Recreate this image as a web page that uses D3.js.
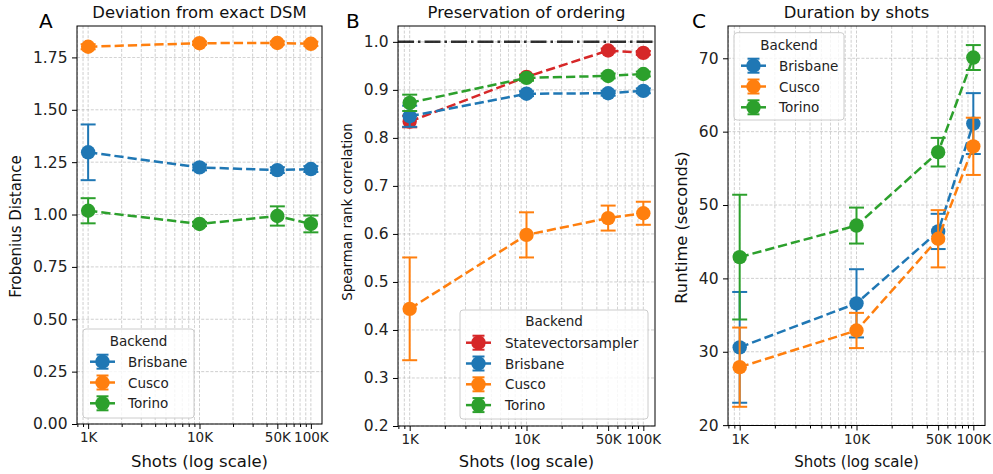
<!DOCTYPE html>
<html>
<head>
<meta charset="utf-8">
<script src="https://cdn.jsdelivr.net/npm/d3@7"></script>
<style>
  html, body { margin: 0; padding: 0; background: #fff; }
  svg { display: block; font-family: "DejaVu Sans", sans-serif; }
</style>
</head>
<body>
<svg id="chart" width="993" height="474"></svg>
<script>
// ---------------- DATA ----------------
const shots = [1000, 10000, 50000, 100000];
const shotLabels = ["1K", "10K", "50K", "100K"];

// Panel A: Frobenius distance from exact DSM
const frobBackends = ["Brisbane", "Cusco", "Torino"];
const frobBrisbane = [1.297, 1.225, 1.212, 1.217];
const frobBrisbaneErr = [0.133, 0.014, 0.014, 0.014];
const frobCusco = [1.801, 1.818, 1.819, 1.815];
const frobCuscoErr = [0.012, 0.008, 0.008, 0.010];
const frobTorino = [1.018, 0.955, 0.993, 0.955];
const frobTorinoErr = [0.060, 0.010, 0.046, 0.040];
const frobTicks = [0.00, 0.25, 0.50, 0.75, 1.00, 1.25, 1.50, 1.75];

// Panel B: Spearman rank correlation
const spearBackends = ["Statevectorsampler", "Brisbane", "Cusco", "Torino"];
const spearStatevector = [0.834, 0.927, 0.982, 0.977];
const spearStatevectorErr = [0.012, 0.005, 0.004, 0.004];
const spearBrisbane = [0.845, 0.892, 0.893, 0.898];
const spearBrisbaneErr = [0.022, 0.005, 0.005, 0.005];
const spearCusco = [0.444, 0.598, 0.633, 0.643];
const spearCuscoErr = [0.107, 0.047, 0.026, 0.024];
const spearTorino = [0.873, 0.925, 0.929, 0.933];
const spearTorinoErr = [0.017, 0.006, 0.005, 0.005];
const spearTicks = [0.2, 0.3, 0.4, 0.5, 0.6, 0.7, 0.8, 0.9, 1.0];
const spearReference = 1.0;

// Panel C: runtime in seconds
const timeBackends = ["Brisbane", "Cusco", "Torino"];
const timeBrisbane = [30.6, 36.6, 46.4, 61.1];
const timeBrisbaneErr = [7.55, 4.65, 2.4, 4.15];
const timeCusco = [27.9, 32.9, 45.4, 58.0];
const timeCuscoErr = [5.4, 2.4, 3.9, 3.9];
const timeTorino = [42.9, 47.2, 57.2, 70.1];
const timeTorinoErr = [8.5, 2.45, 1.95, 1.7];
const timeTicks = [20, 30, 40, 50, 60, 70];

// ---------------- STYLE ----------------
const colors = {
  Statevectorsampler: "#d62728",
  Brisbane: "#1f77b4",
  Cusco: "#ff7f0e",
  Torino: "#2ca02c"
};

const svg = d3.select("#chart");
svg.append("rect").attr("width", 993).attr("height", 474).attr("fill", "#fff");

const xDomain = [Math.pow(10, 2.9), Math.pow(10, 5.1)];
const minorX = [];
[100, 1000, 10000, 100000].forEach(dec => {
  for (let k = 1; k <= 9; k++) {
    const v = dec * k;
    if (v >= xDomain[0] && v <= xDomain[1] && !shots.includes(v)) minorX.push(v);
  }
});

function drawPanel(cfg) {
  const { x0, x1, y0, y1 } = cfg.box;
  const x = d3.scaleLog().domain(xDomain).range([x0, x1]);
  const y = d3.scaleLinear().domain(cfg.yDomain).range([y1, y0]);
  const g = svg.append("g");

  // grid
  const grid = g.append("g");
  grid.selectAll(".gx").data(minorX.concat(shots)).join("line")
    .attr("x1", d => x(d)).attr("x2", d => x(d))
    .attr("y1", y0).attr("y2", y1)
    .attr("stroke", "#b0b0b0").attr("stroke-width", 0.8)
    .attr("stroke-dasharray", "3,1.6").attr("opacity", 0.75);
  grid.selectAll(".gy").data(cfg.yTicks).join("line")
    .attr("x1", x0).attr("x2", x1)
    .attr("y1", d => y(d)).attr("y2", d => y(d))
    .attr("stroke", "#b0b0b0").attr("stroke-width", 0.8)
    .attr("stroke-dasharray", "3,1.6").attr("opacity", 0.75);

  // reference line
  if (cfg.refLine !== undefined) {
    g.append("line")
      .attr("x1", x0).attr("x2", x1)
      .attr("y1", y(cfg.refLine)).attr("y2", y(cfg.refLine))
      .attr("stroke", "#000").attr("stroke-opacity", 0.8)
      .attr("stroke-width", 2.5)
      .attr("stroke-dasharray", "16,4,2.5,4");
  }

  // series
  cfg.series.forEach(s => {
    const c = colors[s.name];
    const sg = g.append("g");
    const pts = shots.map((v, i) => ({ sx: v, v: s.values[i], e: s.err[i] }));
    sg.append("path").datum(pts)
      .attr("d", d3.line().x(d => x(d.sx)).y(d => y(d.v)))
      .attr("fill", "none").attr("stroke", c).attr("stroke-width", 2.5)
      .attr("stroke-dasharray", "9.25,4");
    pts.forEach(d => {
      const px = x(d.sx);
      sg.append("line").attr("x1", px).attr("x2", px)
        .attr("y1", y(d.v - d.e)).attr("y2", y(d.v + d.e))
        .attr("stroke", c).attr("stroke-width", 2);
      [d.v - d.e, d.v + d.e].forEach(cv => {
        sg.append("line").attr("x1", px - 7.5).attr("x2", px + 7.5)
          .attr("y1", y(cv)).attr("y2", y(cv))
          .attr("stroke", c).attr("stroke-width", 2);
      });
    });
    sg.selectAll("circle").data(pts).join("circle")
      .attr("cx", d => x(d.sx)).attr("cy", d => y(d.v))
      .attr("r", 7.2).attr("fill", c);
  });

  // spines
  g.append("rect").attr("x", x0).attr("y", y0)
    .attr("width", x1 - x0).attr("height", y1 - y0)
    .attr("fill", "none").attr("stroke", "#000").attr("stroke-width", 1);

  // x axis
  const xAxis = d3.axisBottom(x).tickValues(shots)
    .tickFormat((d, i) => shotLabels[i]).tickSize(5).tickPadding(3.5);
  const xa = g.append("g").attr("transform", `translate(0,${y1})`).call(xAxis);
  xa.select(".domain").remove();
  xa.selectAll("text").attr("font-size", 13.5).attr("fill", "#222").attr("font-family", "DejaVu Sans");
  const xm = d3.axisBottom(x).tickValues(minorX).tickFormat("").tickSize(3);
  const xma = g.append("g").attr("transform", `translate(0,${y1})`).call(xm);
  xma.select(".domain").remove();

  // y axis
  const yAxis = d3.axisLeft(y).tickValues(cfg.yTicks)
    .tickFormat(d3.format(cfg.yFormat)).tickSize(5).tickPadding(4.5);
  const ya = g.append("g").attr("transform", `translate(${x0},0)`).call(yAxis);
  ya.select(".domain").remove();
  ya.selectAll("text").attr("font-size", 15.5).attr("fill", "#222").attr("font-family", "DejaVu Sans");

  // labels
  g.append("text").attr("x", (x0 + x1) / 2).attr("y", 17.5)
    .attr("text-anchor", "middle").attr("font-size", 16.4).attr("fill", "#111")
    .text(cfg.title);
  g.append("text").attr("x", cfg.letterX).attr("y", 28)
    .attr("font-size", 20).attr("fill", "#000").text(cfg.letter);
  g.append("text").attr("x", (x0 + x1) / 2).attr("y", 467)
    .attr("text-anchor", "middle").attr("font-size", cfg.xLabelSize).attr("fill", "#111")
    .text("Shots (log scale)");
  g.append("text")
    .attr("transform", `translate(${cfg.yLabelX},${cfg.yLabelY}) rotate(-90)`)
    .attr("text-anchor", "middle").attr("dominant-baseline", "central")
    .attr("font-size", cfg.yLabelSize).attr("fill", "#111")
    .text(cfg.yLabel);

  // legend
  const L = cfg.legend;
  const lg = g.append("g");
  lg.append("rect").attr("x", L.x).attr("y", L.y).attr("width", L.w).attr("height", L.h)
    .attr("rx", 3).attr("fill", "#fff").attr("fill-opacity", 0.8)
    .attr("stroke", "#cccccc").attr("stroke-width", 1);
  lg.append("text").attr("x", L.x + L.w / 2).attr("y", L.titleY)
    .attr("text-anchor", "middle").attr("dominant-baseline", "central")
    .attr("font-size", 13.5).attr("fill", "#222").text("Backend");
  cfg.series.forEach((s, i) => {
    const c = colors[s.name];
    const cy = L.firstY + i * L.step;
    const hx0 = L.hx, hx1 = L.hx + 25, hc = (hx0 + hx1) / 2;
    lg.append("line").attr("x1", hx0).attr("x2", hx1).attr("y1", cy).attr("y2", cy)
      .attr("stroke", c).attr("stroke-width", 2.5);
    lg.append("line").attr("x1", hc).attr("x2", hc).attr("y1", cy - 7).attr("y2", cy + 7)
      .attr("stroke", c).attr("stroke-width", 2);
    [cy - 7, cy + 7].forEach(yy => lg.append("line")
      .attr("x1", hc - 6).attr("x2", hc + 6).attr("y1", yy).attr("y2", yy)
      .attr("stroke", c).attr("stroke-width", 2));
    lg.append("circle").attr("cx", hc).attr("cy", cy).attr("r", 7.2).attr("fill", c);
    lg.append("text").attr("x", L.tx).attr("y", cy)
      .attr("dominant-baseline", "central").attr("font-size", 13.5).attr("fill", "#222")
      .text(s.name);
  });
}

drawPanel({
  box: { x0: 77, x1: 322, y0: 26, y1: 424 },
  yDomain: [0, 1.9], yTicks: frobTicks, yFormat: ".2f",
  title: "Deviation from exact DSM", letter: "A", letterX: 39,
  yLabel: "Frobenius Distance", yLabelX: 15.5, yLabelY: 226.5, yLabelSize: 15,
  xLabelSize: 16.5,
  series: [
    { name: frobBackends[0], values: frobBrisbane, err: frobBrisbaneErr },
    { name: frobBackends[1], values: frobCusco, err: frobCuscoErr },
    { name: frobBackends[2], values: frobTorino, err: frobTorinoErr }
  ],
  legend: { x: 83, y: 329, w: 111, h: 89, titleY: 340.7, firstY: 361.7, step: 20.8, hx: 90, tx: 128 }
});

drawPanel({
  box: { x0: 398, x1: 655, y0: 26, y1: 426 },
  yDomain: [0.2, 1.033], yTicks: spearTicks, yFormat: ".1f",
  refLine: spearReference,
  title: "Preservation of ordering", letter: "B", letterX: 346,
  yLabel: "Spearman rank correlation", yLabelX: 347.5, yLabelY: 212, yLabelSize: 13.3,
  xLabelSize: 16.3,
  series: [
    { name: spearBackends[0], values: spearStatevector, err: spearStatevectorErr },
    { name: spearBackends[1], values: spearBrisbane, err: spearBrisbaneErr },
    { name: spearBackends[2], values: spearCusco, err: spearCuscoErr },
    { name: spearBackends[3], values: spearTorino, err: spearTorinoErr }
  ],
  legend: { x: 460, y: 310, w: 188, h: 109, titleY: 320.7, firstY: 342.7, step: 20.8, hx: 466, tx: 505 }
});

drawPanel({
  box: { x0: 728, x1: 985, y0: 26, y1: 425.5 },
  yDomain: [19.95, 74.4], yTicks: timeTicks, yFormat: "d",
  title: "Duration by shots", letter: "C", letterX: 692,
  yLabel: "Runtime (seconds)", yLabelX: 681, yLabelY: 227.5, yLabelSize: 16.3,
  xLabelSize: 15,
  series: [
    { name: timeBackends[0], values: timeBrisbane, err: timeBrisbaneErr },
    { name: timeBackends[1], values: timeCusco, err: timeCuscoErr },
    { name: timeBackends[2], values: timeTorino, err: timeTorinoErr }
  ],
  legend: { x: 734, y: 32.7, w: 110, h: 87.3, titleY: 45, firstY: 65.7, step: 20.8, hx: 741, tx: 779 }
});
</script>
</body>
</html>
